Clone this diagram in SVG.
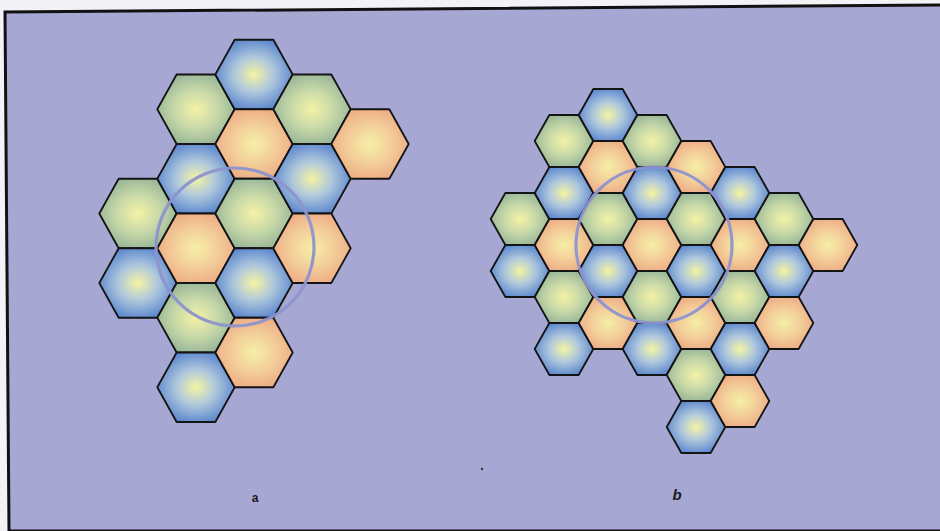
<svg xmlns="http://www.w3.org/2000/svg" xmlns:xlink="http://www.w3.org/1999/xlink" width="940" height="531" viewBox="0 0 940 531">
<style>
.hex{stroke:#141414;stroke-width:1.8;stroke-linejoin:round}
.blue{fill:url(#gBlue)}
.green{fill:url(#gGreen)}
.orange{fill:url(#gOrange)}
.ring{fill:none;stroke:#8d94cf;stroke-width:3.2;opacity:0.95}
.lbl{font-family:"Liberation Sans",Arial,sans-serif;font-weight:bold;fill:#1a1a1a;text-anchor:middle}
</style>
<defs>
<radialGradient id="gBlue" cx="0.5" cy="0.5" r="0.55">
<stop offset="0" stop-color="#f5f3a2"/>
<stop offset="0.45" stop-color="#b0c9dc"/>
<stop offset="1" stop-color="#5682cd"/>
</radialGradient>
<radialGradient id="gGreen" cx="0.5" cy="0.5" r="0.55">
<stop offset="0" stop-color="#f4f2a6"/>
<stop offset="0.5" stop-color="#c8d9a8"/>
<stop offset="1" stop-color="#94b396"/>
</radialGradient>
<radialGradient id="gOrange" cx="0.5" cy="0.5" r="0.55">
<stop offset="0" stop-color="#f5efa6"/>
<stop offset="0.5" stop-color="#f3cf9a"/>
<stop offset="1" stop-color="#edaa84"/>
</radialGradient>
<polygon id="hexA" points="-38.7,0 -19.35,-34.75 19.35,-34.75 38.7,0 19.35,34.75 -19.35,34.75"/>
<polygon id="hexB" points="-29.3,0 -14.65,-26 14.65,-26 29.3,0 14.65,26 -14.65,26"/>
</defs>
<rect x="0" y="0" width="940" height="531" fill="#f3f3f7"/>
<polygon points="5,12 940,5 940,531 9,531" fill="#a6a8d3"/>
<polyline id="frame" points="940,5 5,12 9,531 940,531" fill="none" stroke="#111" stroke-width="3"/>
<g id="cluster-a">
<g id="a1"><use xlink:href="#hexA" class="hex green" x="138" y="213.5"/></g>
<g id="a2"><use xlink:href="#hexA" class="hex blue" x="138" y="283"/></g>
<g id="a3"><use xlink:href="#hexA" class="hex green" x="196" y="109.25"/></g>
<g id="a4"><use xlink:href="#hexA" class="hex blue" x="196" y="178.75"/></g>
<g id="a5"><use xlink:href="#hexA" class="hex orange" x="196" y="248.25"/></g>
<g id="a6"><use xlink:href="#hexA" class="hex green" x="196" y="317.75"/></g>
<g id="a7"><use xlink:href="#hexA" class="hex blue" x="196" y="387.25"/></g>
<g id="a8"><use xlink:href="#hexA" class="hex blue" x="254" y="74.5"/></g>
<g id="a9"><use xlink:href="#hexA" class="hex orange" x="254" y="144"/></g>
<g id="a10"><use xlink:href="#hexA" class="hex green" x="254" y="213.5"/></g>
<g id="a11"><use xlink:href="#hexA" class="hex blue" x="254" y="283"/></g>
<g id="a12"><use xlink:href="#hexA" class="hex orange" x="254" y="352.5"/></g>
<g id="a13"><use xlink:href="#hexA" class="hex green" x="312" y="109.25"/></g>
<g id="a14"><use xlink:href="#hexA" class="hex blue" x="312" y="178.75"/></g>
<g id="a15"><use xlink:href="#hexA" class="hex orange" x="312" y="248.25"/></g>
<g id="a16"><use xlink:href="#hexA" class="hex orange" x="370" y="144"/></g>
<circle id="ring-a" class="ring" cx="235" cy="247" r="79"/>
</g>
<g id="cluster-b">
<g id="b1"><use xlink:href="#hexB" class="hex green" x="520" y="219"/></g>
<g id="b2"><use xlink:href="#hexB" class="hex blue" x="520" y="271"/></g>
<g id="b3"><use xlink:href="#hexB" class="hex green" x="564" y="141"/></g>
<g id="b4"><use xlink:href="#hexB" class="hex blue" x="564" y="193"/></g>
<g id="b5"><use xlink:href="#hexB" class="hex orange" x="564" y="245"/></g>
<g id="b6"><use xlink:href="#hexB" class="hex green" x="564" y="297"/></g>
<g id="b7"><use xlink:href="#hexB" class="hex blue" x="564" y="349"/></g>
<g id="b8"><use xlink:href="#hexB" class="hex blue" x="608" y="115"/></g>
<g id="b9"><use xlink:href="#hexB" class="hex orange" x="608" y="167"/></g>
<g id="b10"><use xlink:href="#hexB" class="hex green" x="608" y="219"/></g>
<g id="b11"><use xlink:href="#hexB" class="hex blue" x="608" y="271"/></g>
<g id="b12"><use xlink:href="#hexB" class="hex orange" x="608" y="323"/></g>
<g id="b13"><use xlink:href="#hexB" class="hex green" x="652" y="141"/></g>
<g id="b14"><use xlink:href="#hexB" class="hex blue" x="652" y="193"/></g>
<g id="b15"><use xlink:href="#hexB" class="hex orange" x="652" y="245"/></g>
<g id="b16"><use xlink:href="#hexB" class="hex green" x="652" y="297"/></g>
<g id="b17"><use xlink:href="#hexB" class="hex blue" x="652" y="349"/></g>
<g id="b18"><use xlink:href="#hexB" class="hex orange" x="696" y="167"/></g>
<g id="b19"><use xlink:href="#hexB" class="hex green" x="696" y="219"/></g>
<g id="b20"><use xlink:href="#hexB" class="hex blue" x="696" y="271"/></g>
<g id="b21"><use xlink:href="#hexB" class="hex orange" x="696" y="323"/></g>
<g id="b22"><use xlink:href="#hexB" class="hex green" x="696" y="375"/></g>
<g id="b23"><use xlink:href="#hexB" class="hex blue" x="696" y="427"/></g>
<g id="b24"><use xlink:href="#hexB" class="hex blue" x="740" y="193"/></g>
<g id="b25"><use xlink:href="#hexB" class="hex orange" x="740" y="245"/></g>
<g id="b26"><use xlink:href="#hexB" class="hex green" x="740" y="297"/></g>
<g id="b27"><use xlink:href="#hexB" class="hex blue" x="740" y="349"/></g>
<g id="b28"><use xlink:href="#hexB" class="hex orange" x="740" y="401"/></g>
<g id="b29"><use xlink:href="#hexB" class="hex green" x="784" y="219"/></g>
<g id="b30"><use xlink:href="#hexB" class="hex blue" x="784" y="271"/></g>
<g id="b31"><use xlink:href="#hexB" class="hex orange" x="784" y="323"/></g>
<g id="b32"><use xlink:href="#hexB" class="hex orange" x="828" y="245"/></g>
<circle id="ring-b" class="ring" cx="654" cy="245" r="78"/>
</g>
<g id="connectors"/>
<circle cx="482" cy="469" r="1.2" fill="#333"/>
<text id="label-a" class="lbl" x="255" y="502" font-size="12">a</text>
<text id="label-b" class="lbl" x="677" y="500" font-size="15" font-style="italic">b</text>
</svg>
